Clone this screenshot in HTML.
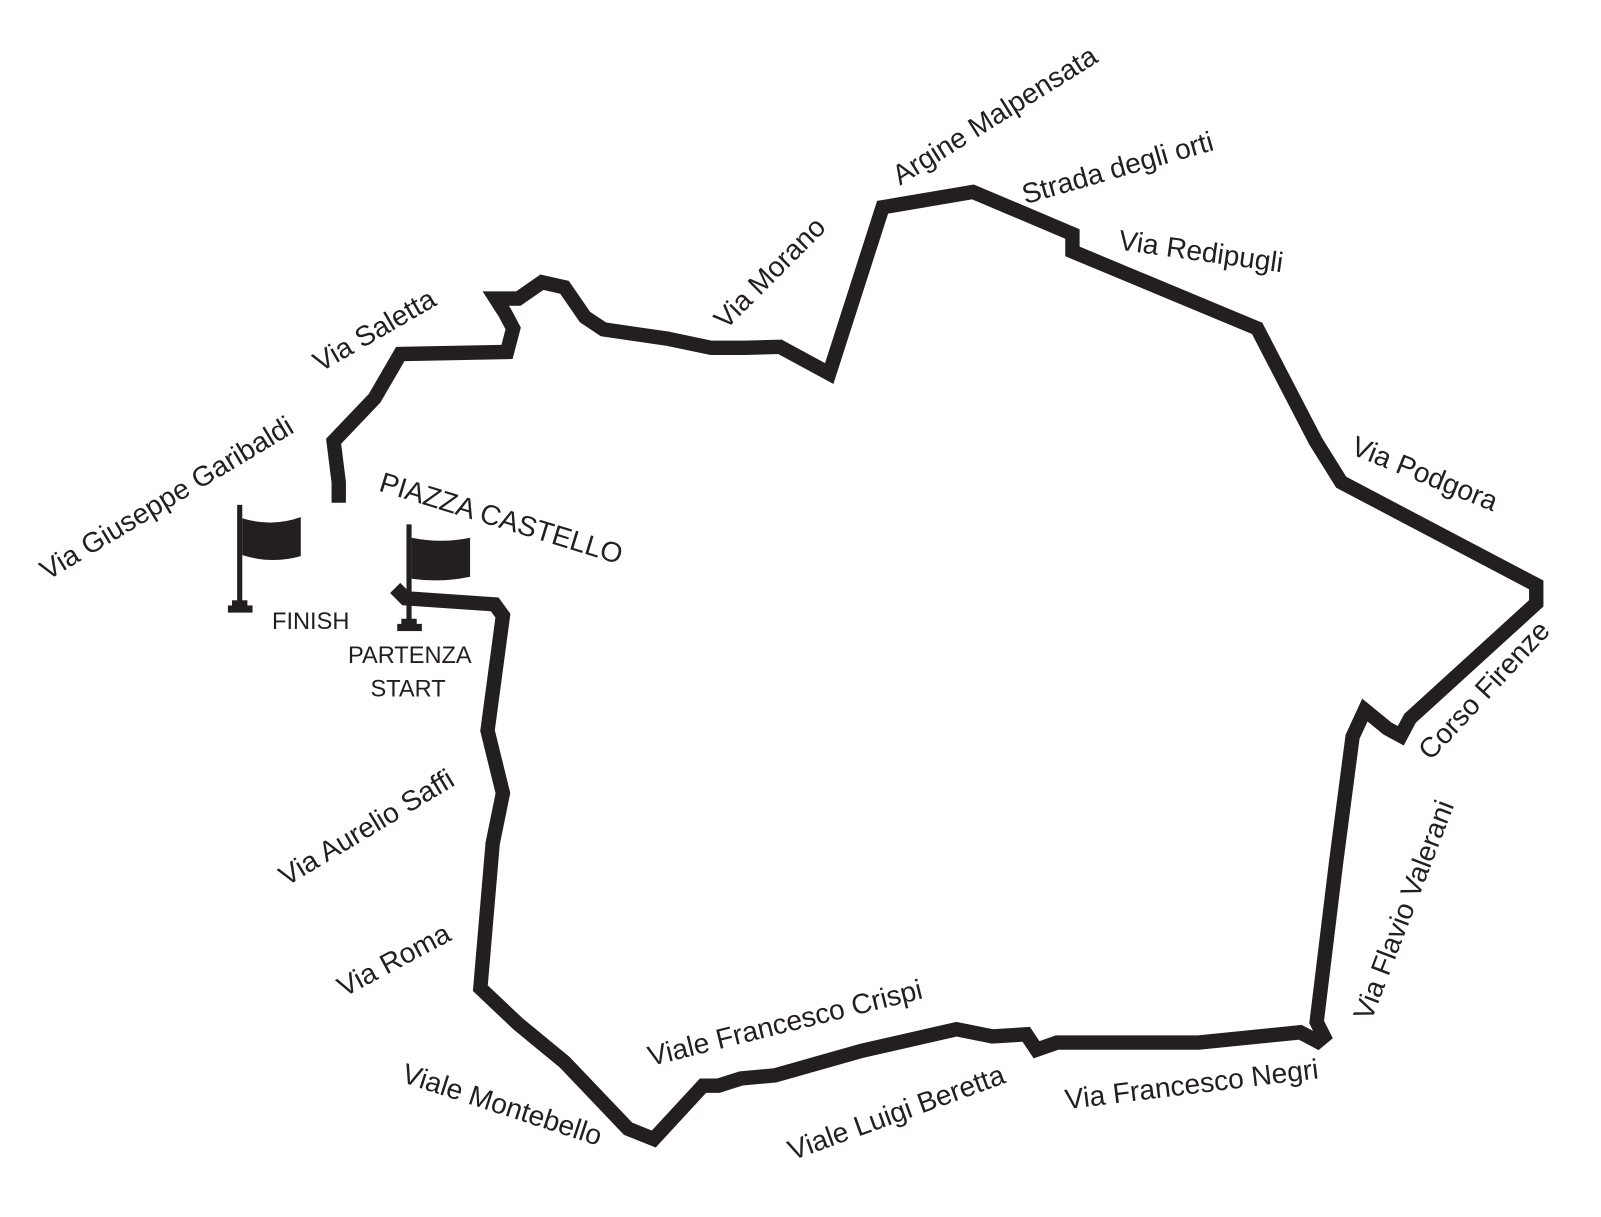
<!DOCTYPE html>
<html><head><meta charset="utf-8"><style>
html,body{margin:0;padding:0;background:#fff;}
svg{display:block;}
text{font-family:"Liberation Sans",sans-serif;fill:#231f20;}
.l{font-size:27.5px;font-weight:normal;}
.b{font-size:23px;}
</style></head><body>
<svg width="1601" height="1217" viewBox="0 0 1560 1186" xmlns="http://www.w3.org/2000/svg">
<rect width="1560" height="1186" fill="#fff"/>
<polyline fill="none" stroke="#231f20" stroke-width="14" stroke-linejoin="miter" stroke-miterlimit="3"
points="385,573 395,583 482,589 490,600 475,712 490,773 480,822 468,963 505,998 550,1035 612,1100 637,1110 685,1058 700,1058 722,1051 755,1048 840,1024 932,1003 967,1010 1000,1008 1010,1023 1030,1016 1168,1016 1267,1006 1284,1015 1290,1010 1283,996 1302,840 1318,718 1330,692 1352,710 1365,717 1374,700 1497,588 1497,570 1307,470 1282,430 1225,320 1045,245 1045,228 948,187 860,202 808,364 760,338 725,339 693,339 650,330 588,321 570,309 550,280 528,275 505,291 483,291 492,305 500,320 494,343 390,345 365,388 325,430 330,470 330,490"/>
<rect x="231" y="492" width="5" height="98" fill="#231f20"/>
<rect x="226" y="585" width="15" height="6" fill="#231f20"/>
<rect x="222" y="590" width="24" height="7" fill="#231f20"/>
<path d="M236,505 Q265,514 293,504 L293,542 Q265,550 236,541 Z" fill="#231f20"/>
<rect x="396" y="511" width="5" height="98" fill="#231f20"/>
<rect x="391" y="603" width="15" height="6" fill="#231f20"/>
<rect x="387" y="608" width="24" height="7" fill="#231f20"/>
<path d="M401,524 Q430,530 458,524 L458,562 Q430,568 401,564 Z" fill="#231f20"/>
<text class="b" x="265" y="613">FINISH</text>
<text class="b" x="339" y="646">PARTENZA</text>
<text class="b" x="361" y="679">START</text>

<text class="l" transform="translate(877,181) rotate(-32)">Argine Malpensata</text>
<text class="l" transform="translate(999,199) rotate(-16)">Strada degli orti</text>
<text class="l" transform="translate(1089,243) rotate(8)">Via Redipugli</text>
<text class="l" transform="translate(707,322) rotate(-45)">Via Morano</text>
<text class="l" transform="translate(312,363) rotate(-30)">Via Saletta</text>
<text class="l" transform="translate(46,566) rotate(-31)">Via Giuseppe Garibaldi</text>
<text class="l" transform="translate(368,478) rotate(17)">PIAZZA CASTELLO</text>
<text class="l" transform="translate(1315,442) rotate(22)">Via Podgora</text>
<text class="l" transform="translate(1394,742) rotate(-47)">Corso Firenze</text>
<text class="l" transform="translate(1336,996) rotate(-69)">Via Flavio Valerani</text>
<text class="l" transform="translate(279,864) rotate(-31)">Via Aurelio Saffi</text>
<text class="l" transform="translate(335,972) rotate(-28)">Via Roma</text>
<text class="l" transform="translate(390,1054) rotate(18)">Viale Montebello</text>
<text class="l" transform="translate(634,1039) rotate(-14)">Viale Francesco Crispi</text>
<text class="l" transform="translate(772,1131) rotate(-20)">Viale Luigi Beretta</text>
<text class="l" transform="translate(1039,1081) rotate(-7)">Via Francesco Negri</text>
</svg>
</body></html>
